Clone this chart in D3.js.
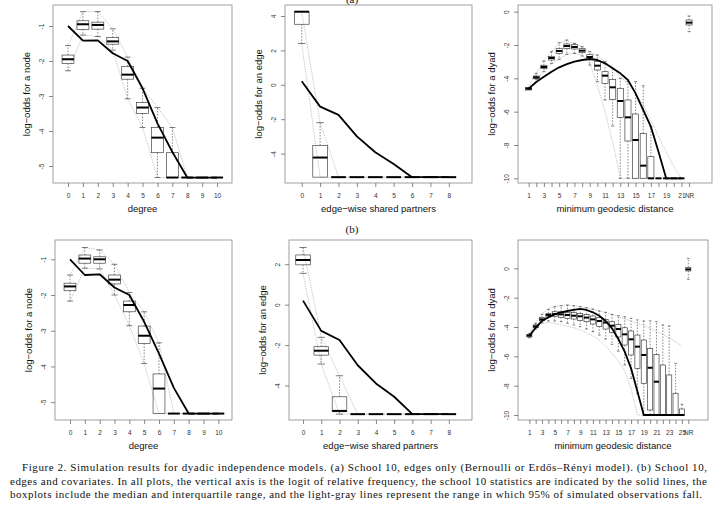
<!DOCTYPE html>
<html>
<head>
<meta charset="utf-8">
<script src="https://cdn.jsdelivr.net/npm/d3@7.9.0/dist/d3.min.js"></script>
<style>
  body { margin: 0; background: #fff; }
  svg { display: block; }
  .tick text { font-family: "Liberation Sans", Arial, sans-serif; font-size: 6.5px; fill: #333; }
  .tick line { stroke: #555; stroke-width: 0.7; }
  .ttl { font-family: "Liberation Sans", Arial, sans-serif; font-size: 9.5px; fill: #111; }
  .cap { font-family: "Liberation Serif", "Times New Roman", serif; font-size: 11px; fill: #111; }
</style>
</head>
<body>
<svg id="chart" width="720" height="517"></svg>
<script>
// ---------- data (a) edges only ----------
const degCats = [0, 1, 2, 3, 4, 5, 6, 7, 8, 9, 10];
const degObsA = [-1.0, -1.42, -1.41, -1.78, -2.0, -2.78, -3.78, -4.6, -5.33, -5.33, -5.33];
const degMedA = [-1.95, -0.95, -0.97, -1.44, -2.39, -3.33, -4.19, -5.33, -5.33, -5.33, -5.33];
const degQ3A  = [-1.83, -0.85, -0.89, -1.33, -2.16, -3.19, -3.90, -4.62, -5.33, -5.33, -5.33];
const degQ1A  = [-2.07, -1.10, -1.09, -1.52, -2.52, -3.50, -4.62, -5.33, -5.33, -5.33, -5.33];
const degHiA  = [-1.56, -0.59, -0.59, -1.08, -1.89, -2.78, -3.33, -3.90, -5.33, -5.33, -5.33];
const degLoA  = [-2.28, -1.26, -1.30, -1.69, -3.08, -3.90, -5.33, -5.33, -5.33, -5.33, -5.33];
const degHi95A = [-1.56, -0.59, -0.59, -1.08, -1.89, -2.78, -3.33, -3.90, -5.33, -5.33, -5.33];
const degLo95A = [-2.28, -1.26, -1.30, -1.69, -3.08, -3.90, -5.33, -5.33, -5.33, -5.33, -5.33];

const espCats = [0, 1, 2, 3, 4, 5, 6, 7, 8];
const espObsA = [0.21, -1.27, -1.75, -3.0, -3.92, -4.6, -5.37, -5.37, -5.37];
const espMedA = [4.25, -4.23, -5.37, -5.37, -5.37, -5.37, -5.37, -5.37, -5.37];
const espQ3A  = [4.25, -3.53, -5.37, -5.37, -5.37, -5.37, -5.37, -5.37, -5.37];
const espQ1A  = [3.52, -5.37, -5.37, -5.37, -5.37, -5.37, -5.37, -5.37, -5.37];
const espHiA  = [4.25, -2.2, -5.37, -5.37, -5.37, -5.37, -5.37, -5.37, -5.37];
const espLoA  = [2.4, -5.37, -5.37, -5.37, -5.37, -5.37, -5.37, -5.37, -5.37];
const espHi95A = [4.25, -2.2, -5.37, -5.37, -5.37, -5.37, -5.37, -5.37, -5.37];
const espLo95A = [2.4, -5.37, -5.37, -5.37, -5.37, -5.37, -5.37, -5.37, -5.37];

const geoCatsA = [1, 2, 3, 4, 5, 6, 7, 8, 9, 10, 11, 12, 13, 14, 15, 16, 17, 18, 19, 20, 21];
const geoObsA = [-4.62, -4.22, -3.9, -3.6, -3.34, -3.15, -3.0, -2.9, -2.84, -2.9, -3.1, -3.4, -3.7, -4.1, -4.9, -5.9, -6.9, -8.4, -10, -10, -10];
const geoMedA = [-4.62, -3.94, -3.32, -2.78, -2.36, -2.06, -2.12, -2.34, -2.72, -3.24, -3.84, -4.54, -5.36, -6.34, -7.70, -9.24, -10, -10, -10, -10, -10];
const geoQ3A  = [-4.54, -3.86, -3.22, -2.68, -2.22, -1.94, -1.98, -2.22, -2.58, -3.0, -3.60, -4.06, -4.60, -5.30, -6.14, -7.30, -8.70, -10, -10, -10, -10];
const geoQ1A  = [-4.70, -4.02, -3.42, -2.90, -2.50, -2.22, -2.24, -2.46, -2.86, -3.50, -4.30, -5.26, -6.34, -7.76, -10, -10, -10, -10, -10, -10, -10];
const geoHiA  = [-4.55, -3.7, -2.96, -2.4, -1.86, -1.7, -1.9, -2.1, -2.4, -2.6, -3.0, -3.4, -4.0, -4.2, -4.2, -4.45, -6.9, -10, -10, -10, -10];
const geoLoA  = [-4.66, -4.06, -3.6, -3.1, -2.86, -2.56, -2.5, -2.66, -3.2, -4.2, -5.3, -6.86, -10, -10, -10, -10, -10, -10, -10, -10, -10];
const geoHi95A = [-4.5, -3.7, -2.95, -2.4, -1.9, -1.75, -1.9, -2.1, -2.4, -2.65, -3.0, -3.4, -3.9, -4.3, -4.9, -5.6, -6.5, -7.5, -8.4, -9.3, -10];
const geoLo95A = [-4.66, -4.1, -3.6, -3.1, -2.85, -2.55, -2.5, -2.6, -3.1, -4.4, -6.0, -7.8, -10, -10, -10, -10, -10, -10, -10, -10, -10];
const geoNrA = [-1.2, -0.8, -0.66, -0.5, -0.26]; // lo, q1, median, q3, hi

// ---------- data (b) edges and covariates ----------
const degObsB = [-1.0, -1.44, -1.42, -1.79, -2.0, -2.75, -3.64, -4.6, -5.32, -5.32, -5.32];
const degMedB = [-1.76, -0.98, -1.0, -1.57, -2.28, -3.14, -4.62, -5.32, -5.32, -5.32, -5.32];
const degQ3B  = [-1.67, -0.88, -0.93, -1.44, -2.17, -2.87, -4.21, -5.32, -5.32, -5.32, -5.32];
const degQ1B  = [-1.88, -1.11, -1.11, -1.69, -2.47, -3.36, -5.32, -5.32, -5.32, -5.32, -5.32];
const degHiB  = [-1.44, -0.67, -0.74, -1.14, -1.93, -2.47, -3.34, -5.32, -5.32, -5.32, -5.32];
const degLoB  = [-2.17, -1.25, -1.27, -2.0, -2.86, -3.92, -5.32, -5.32, -5.32, -5.32, -5.32];
const degHi95B = [-1.44, -0.67, -0.74, -1.14, -1.93, -2.47, -3.34, -5.32, -5.32, -5.32, -5.32];
const degLo95B = [-2.17, -1.25, -1.27, -2.0, -2.86, -3.92, -5.32, -5.32, -5.32, -5.32, -5.32];

const espObsB = [0.2, -1.3, -1.75, -3.0, -3.9, -4.56, -5.42, -5.42, -5.42];
const espMedB = [2.21, -2.28, -5.26, -5.42, -5.42, -5.42, -5.42, -5.42, -5.42];
const espQ3B  = [2.46, -2.08, -4.56, -5.42, -5.42, -5.42, -5.42, -5.42, -5.42];
const espQ1B  = [1.97, -2.5, -5.3, -5.42, -5.42, -5.42, -5.42, -5.42, -5.42];
const espHiB  = [2.83, -1.62, -3.52, -5.42, -5.42, -5.42, -5.42, -5.42, -5.42];
const espLoB  = [1.55, -2.94, -5.42, -5.42, -5.42, -5.42, -5.42, -5.42, -5.42];
const espHi95B = [2.83, -1.62, -3.52, -5.42, -5.42, -5.42, -5.42, -5.42, -5.42];
const espLo95B = [1.55, -2.94, -5.42, -5.42, -5.42, -5.42, -5.42, -5.42, -5.42];

const geoCatsB = [1, 2, 3, 4, 5, 6, 7, 8, 9, 10, 11, 12, 13, 14, 15, 16, 17, 18, 19, 20, 21, 22, 23, 24, 25];
const geoObsB = [-4.59, -4.05, -3.59, -3.33, -3.14, -3.0, -2.91, -2.83, -2.77, -2.84, -3.0, -3.23, -3.59, -4.09, -4.82, -5.68, -6.82, -8.4, -10, -10, -10, -10, -10, -10, -10];
const geoMedB = [-4.59, -3.96, -3.48, -3.18, -3.12, -3.14, -3.18, -3.23, -3.27, -3.36, -3.48, -3.59, -3.70, -3.91, -4.14, -4.5, -4.84, -5.34, -5.91, -6.78, -7.73, -10, -10, -10, -10];
const geoQ3B  = [-4.50, -3.86, -3.36, -3.07, -2.96, -2.96, -3.0, -3.02, -3.07, -3.14, -3.25, -3.36, -3.48, -3.64, -3.82, -4.05, -4.27, -4.55, -4.89, -5.46, -5.87, -6.59, -7.27, -8.52, -9.59];
const geoQ1B  = [-4.68, -4.05, -3.57, -3.32, -3.27, -3.34, -3.41, -3.46, -3.55, -3.64, -3.80, -3.96, -4.14, -4.36, -4.68, -5.23, -5.91, -6.82, -7.84, -9.66, -10, -10, -10, -10, -10];
const geoHiB  = [-4.46, -3.75, -3.14, -2.80, -2.61, -2.55, -2.50, -2.55, -2.61, -2.68, -2.77, -2.91, -3.0, -3.14, -3.23, -3.30, -3.41, -3.52, -3.59, -3.59, -3.64, -3.86, -3.93, -6.48, -9.27];
const geoLoB  = [-4.73, -4.14, -3.71, -3.59, -3.59, -3.64, -3.75, -3.86, -3.98, -4.14, -4.32, -4.55, -4.82, -5.18, -5.64, -6.59, -7.50, -8.52, -10, -10, -10, -10, -10, -10, -10];
const geoHi95B = [-4.45, -3.7, -3.1, -2.75, -2.6, -2.55, -2.5, -2.55, -2.6, -2.7, -2.8, -2.9, -3.0, -3.15, -3.3, -3.45, -3.6, -3.75, -3.9, -4.1, -4.3, -4.5, -4.75, -5.0, -5.3];
const geoLo95B = [-4.75, -4.15, -3.75, -3.7, -3.75, -3.85, -3.95, -4.05, -4.2, -4.4, -4.6, -4.9, -5.3, -5.8, -6.3, -7.0, -8.2, -10, -10, -10, -10, -10, -10, -10, -10];
const geoNrB = [-0.75, -0.18, -0.07, 0.07, 0.68];

// ---------- tick labels ----------
const degTicks = degCats;
const degLabels = degCats.map(String);
const espTicks = espCats;
const espLabels = espCats.map(String);
const geoTicksA = d3.range(1, 23);
const geoLabelsA = ['1', '', '3', '', '5', '', '7', '', '9', '', '11', '', '13', '', '15', '', '17', '', '19', '', '21', 'NR'];
const geoTicksB = d3.range(1, 27);
const geoLabelsB = ['1', '', '3', '', '5', '', '7', '', '9', '', '11', '', '13', '', '15', '', '17', '', '19', '', '21', '', '23', '', '25', 'NR'];
const nrPosA = 22, nrPosB = 26;

const captionLines = [
  'Figure 2.  Simulation results for dyadic independence models. (a) School 10, edges only (Bernoulli or Erdős–Rényi model). (b) School 10,',
  'edges and covariates. In all plots, the vertical axis is the logit of relative frequency, the school 10 statistics are indicated by the solid lines, the',
  'boxplots include the median and interquartile range, and the light-gray lines represent the range in which 95% of simulated observations fall.'
];

const svg = d3.select('#chart');

function boxRows(pos, lo, q1, med, q3, hi) {
  return pos.map((p, i) => ({ p, lo: lo[i], q1: q1[i], med: med[i], q3: q3[i], hi: hi[i] }));
}

function drawPanel(c) {
  const g = svg.append('g');
  const x = d3.scaleLinear().domain(c.xDom).range([c.left, c.right]);
  const y = d3.scaleLinear().domain(c.yDom).range([c.bottom, c.top]);
  const bw = (x(1) - x(0)) * 0.8;

  g.append('rect')
    .attr('x', c.left).attr('y', c.top)
    .attr('width', c.right - c.left).attr('height', c.bottom - c.top)
    .attr('fill', 'none').attr('stroke', '#888').attr('stroke-width', 0.8);

  // axes
  const xa = g.append('g').attr('transform', `translate(0,${c.bottom})`)
    .call(d3.axisBottom(x).tickValues(c.xTicks).tickFormat((d, i) => c.xLabels[i]).tickSize(4).tickPadding(6));
  xa.select('.domain').remove();

  const ya = g.append('g').attr('transform', `translate(${c.left},0)`)
    .call(d3.axisLeft(y).tickValues(c.yTicks).tickFormat(d => d < 0 ? '-' + Math.abs(d) : d).tickSize(4));
  ya.select('.domain').remove();
  ya.selectAll('.tick text')
    .attr('transform', 'rotate(-90)')
    .attr('x', 0).attr('y', -9).attr('dy', 0)
    .attr('text-anchor', 'middle');

  // titles
  g.append('text').attr('class', 'ttl')
    .attr('x', (c.left + c.right) / 2).attr('y', c.bottom + 29)
    .attr('text-anchor', 'middle').text(c.xTitle);
  g.append('text').attr('class', 'ttl')
    .attr('transform', `translate(${c.left - 23},${(c.top + c.bottom) / 2}) rotate(-90)`)
    .attr('text-anchor', 'middle').text(c.yTitle);

  // 95% range lines (light gray)
  const line = d3.line().x((d, i) => x(c.pos[i])).y(d => y(d));
  [c.hi95, c.lo95].forEach(arr => {
    g.append('path').attr('d', line(arr))
      .attr('fill', 'none').attr('stroke', '#bdbdbd').attr('stroke-width', 0.8)
      .attr('stroke-dasharray', '1.5,1');
  });

  // boxplots
  let rows = boxRows(c.pos, c.lo, c.q1, c.med, c.q3, c.hi);
  if (c.nr) {
    rows = rows.concat([{ p: c.nrPos, lo: c.nr[0], q1: c.nr[1], med: c.nr[2], q3: c.nr[3], hi: c.nr[4] }]);
  }
  const b = g.selectAll('g.box').data(rows).join('g').attr('class', 'box');
  b.append('line')
    .attr('x1', d => x(d.p)).attr('x2', d => x(d.p))
    .attr('y1', d => y(d.q3)).attr('y2', d => y(d.hi))
    .attr('stroke', '#555').attr('stroke-width', 0.7).attr('stroke-dasharray', '1.5,1.5');
  b.append('line')
    .attr('x1', d => x(d.p)).attr('x2', d => x(d.p))
    .attr('y1', d => y(d.q1)).attr('y2', d => y(d.lo))
    .attr('stroke', '#555').attr('stroke-width', 0.7).attr('stroke-dasharray', '1.5,1.5');
  ['hi', 'lo'].forEach(k => {
    b.filter(d => d[k] !== d.q3 && d[k] !== d.q1).append('line')
      .attr('x1', d => x(d.p) - bw / 4).attr('x2', d => x(d.p) + bw / 4)
      .attr('y1', d => y(d[k])).attr('y2', d => y(d[k]))
      .attr('stroke', '#444').attr('stroke-width', 0.7);
  });
  b.append('rect')
    .attr('x', d => x(d.p) - bw / 2).attr('width', bw)
    .attr('y', d => y(d.q3)).attr('height', d => Math.max(0, y(d.q1) - y(d.q3)))
    .attr('fill', 'none').attr('stroke', '#444').attr('stroke-width', 0.7);
  b.append('line')
    .attr('x1', d => x(d.p) - bw / 2).attr('x2', d => x(d.p) + bw / 2)
    .attr('y1', d => y(d.med)).attr('y2', d => y(d.med))
    .attr('stroke', '#000').attr('stroke-width', 2);

  // observed statistics
  g.append('path').attr('d', line(c.obs))
    .attr('fill', 'none').attr('stroke', '#000').attr('stroke-width', 1.8)
    .attr('stroke-linejoin', 'round');
}

const panels = [
  { left: 53, right: 232, top: 5, bottom: 183, xDom: [-1.007, 11.0], yDom: [-5.486, -0.4],
    pos: degCats, obs: degObsA, med: degMedA, q1: degQ1A, q3: degQ3A, hi: degHiA, lo: degLoA, hi95: degHi95A, lo95: degLo95A,
    xTicks: degTicks, xLabels: degLabels, yTicks: [-1, -2, -3, -4, -5], xTitle: 'degree', yTitle: 'log\u2212odds for a node' },
  { left: 285, right: 472, top: 5, bottom: 183, xDom: [-0.91, 9.26], yDom: [-5.71, 4.64],
    pos: espCats, obs: espObsA, med: espMedA, q1: espQ1A, q3: espQ3A, hi: espHiA, lo: espLoA, hi95: espHi95A, lo95: espLo95A,
    xTicks: espTicks, xLabels: espLabels, yTicks: [-4, -2, 0, 2, 4], xTitle: 'edge\u2212wise shared partners', yTitle: 'log\u2212odds for an edge' },
  { left: 518, right: 712, top: 5, bottom: 183, xDom: [-0.39, 25.0], yDom: [-10.28, 0.40],
    pos: geoCatsA, obs: geoObsA, med: geoMedA, q1: geoQ1A, q3: geoQ3A, hi: geoHiA, lo: geoLoA, hi95: geoHi95A, lo95: geoLo95A,
    nr: geoNrA, nrPos: nrPosA,
    xTicks: geoTicksA, xLabels: geoLabelsA, yTicks: [0, -2, -4, -6, -8, -10], xTitle: 'minimum geodesic distance', yTitle: 'log\u2212odds for a dyad' },
  { left: 55, right: 232, top: 240, bottom: 420, xDom: [-1.01, 10.92], yDom: [-5.50, -0.46],
    pos: degCats, obs: degObsB, med: degMedB, q1: degQ1B, q3: degQ3B, hi: degHiB, lo: degLoB, hi95: degHi95B, lo95: degLo95B,
    xTicks: degTicks, xLabels: degLabels, yTicks: [-1, -2, -3, -4, -5], xTitle: 'degree', yTitle: 'log\u2212odds for a node' },
  { left: 289, right: 472, top: 240, bottom: 420, xDom: [-0.77, 9.27], yDom: [-5.71, 3.2],
    pos: espCats, obs: espObsB, med: espMedB, q1: espQ1B, q3: espQ3B, hi: espHiB, lo: espLoB, hi95: espHi95B, lo95: espLo95B,
    xTicks: espTicks, xLabels: espLabels, yTicks: [-4, -2, 0, 2], xTitle: 'edge\u2212wise shared partners', yTitle: 'log\u2212odds for an edge' },
  { left: 518, right: 708, top: 240, bottom: 420, xDom: [-0.78, 29.1], yDom: [-10.34, 1.93],
    pos: geoCatsB, obs: geoObsB, med: geoMedB, q1: geoQ1B, q3: geoQ3B, hi: geoHiB, lo: geoLoB, hi95: geoHi95B, lo95: geoLo95B,
    nr: geoNrB, nrPos: nrPosB,
    xTicks: geoTicksB, xLabels: geoLabelsB, yTicks: [0, -2, -4, -6, -8, -10], xTitle: 'minimum geodesic distance', yTitle: 'log\u2212odds for a dyad' }
];

panels.forEach(drawPanel);

// sub-figure labels
svg.append('text').attr('class', 'cap').attr('x', 352).attr('y', 3).attr('text-anchor', 'middle').text('(a)');
svg.append('text').attr('class', 'cap').attr('x', 352).attr('y', 233).attr('text-anchor', 'middle').text('(b)');

// caption, justified like the printed page
const capX = [22, 10, 10];
const capW = [685, 697, 692];
captionLines.forEach((t, i) => {
  svg.append('text').attr('class', 'cap')
    .attr('x', capX[i]).attr('y', 471 + i * 13.5)
    .attr('textLength', capW[i]).attr('lengthAdjust', 'spacing')
    .text(t);
});
</script>
</body>
</html>
